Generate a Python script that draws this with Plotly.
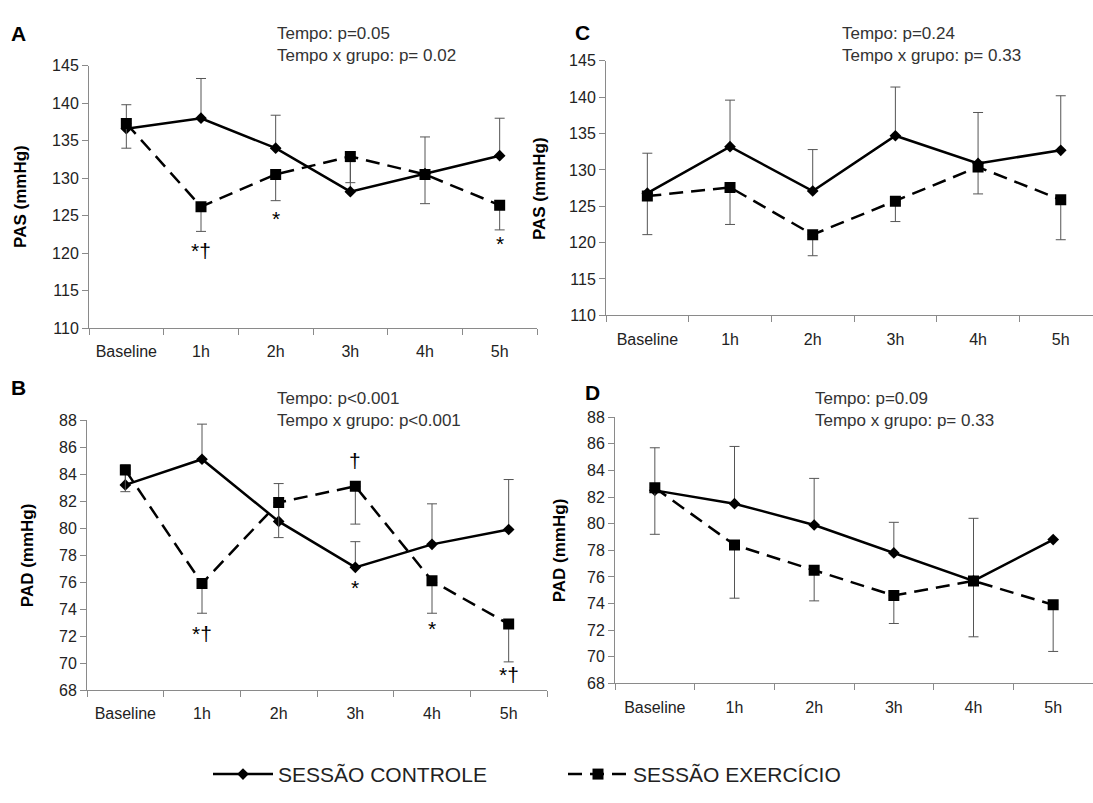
import plotly.graph_objects as go

W, H = 1093, 803

categories = ["Baseline", "1h", "2h", "3h", "4h", "5h"]

# Panel A - PAS (mmHg)
a_controle = [136.6, 138.0, 134.0, 128.2, 130.6, 133.0]
a_controle_err = [3.2, 5.3, 4.4, 4.0, 4.9, 5.0]
a_exercicio = [137.3, 126.2, 130.5, 132.9, 130.5, 126.4]
a_exercicio_err = [3.3, 3.3, 3.5, 3.5, 3.9, 3.3]

# Panel B - PAD (mmHg)
b_controle = [83.2, 85.1, 80.5, 77.1, 78.8, 79.9]
b_controle_err = [1.5, 2.6, 2.8, 1.9, 3.0, 3.7]
b_exercicio = [84.3, 75.9, 81.9, 83.1, 76.1, 72.9]
b_exercicio_err = [1.6, 2.2, 2.6, 2.8, 2.4, 2.8]

# Panel C - PAS (mmHg)
c_controle = [126.8, 133.2, 127.1, 134.7, 130.9, 132.7]
c_controle_err = [5.5, 6.4, 5.7, 6.7, 7.0, 7.5]
c_exercicio = [126.4, 127.6, 121.1, 125.7, 130.4, 125.9]
c_exercicio_err = [5.3, 5.1, 2.9, 2.8, 3.7, 5.5]

# Panel D - PAD (mmHg)
d_controle = [82.5, 81.5, 79.9, 77.8, 75.7, 78.8]
d_controle_err = [3.2, 4.3, 3.5, 2.3, 4.7, 0.0]
d_exercicio = [82.7, 78.4, 76.5, 74.6, 75.7, 73.9]
d_exercicio_err = [3.5, 4.0, 2.3, 2.1, 4.2, 3.5]

stats_a = ["Tempo: p=0.05", "Tempo x grupo: p= 0.02"]
stats_b = ["Tempo: p<0.001", "Tempo x grupo: p<0.001"]
stats_c = ["Tempo: p=0.24", "Tempo x grupo: p= 0.33"]
stats_d = ["Tempo: p=0.09", "Tempo x grupo: p= 0.33"]

# significance marks: (category, y value, label)
sig_a = [("1h", 120.4, "*†"), ("2h", 124.6, "*"), ("5h", 121.3, "*")]
sig_b = [("1h", 72.2, "*†"), ("3h", 85.0, "†"), ("3h", 75.6, "*"),
         ("4h", 72.6, "*"), ("5h", 69.2, "*†")]

legend_names = ["SESSÃO CONTROLE", "SESSÃO EXERCÍCIO"]

FONT = "Liberation Sans, Arial, sans-serif"
AXC = "#8a8a8a"
TXT = "#222222"
ERRC = "#555555"


def px_x(p):
    return p / W


def px_y(p):
    return 1 - p / H


panels = [
    dict(k="", xd=(89, 537), yd=(59, 327), xr=[-0.5, 5.5], yr=[110, 145], dt=5,
         ctrl=a_controle, ce=a_controle_err, ex=a_exercicio, ee=a_exercicio_err),
    dict(k="2", xd=(87, 547), yd=(421, 697), xr=[-0.5, 5.5], yr=[68, 88], dt=2,
         ctrl=b_controle, ce=b_controle_err, ex=b_exercicio, ee=b_exercicio_err),
    dict(k="3", xd=(606, 1093), yd=(54, 314), xr=[-0.5, 5.39], yr=[110, 145], dt=5,
         ctrl=c_controle, ce=c_controle_err, ex=c_exercicio, ee=c_exercicio_err),
    dict(k="4", xd=(615, 1093), yd=(418, 690), xr=[-0.5, 5.5], yr=[68, 88], dt=2,
         ctrl=d_controle, ce=d_controle_err, ex=d_exercicio, ee=d_exercicio_err),
]

fig = go.Figure()
layout = {}

for i, p in enumerate(panels):
    k = p["k"]
    xa, ya = "x" + k, "y" + k
    fig.add_trace(go.Scatter(
        x=categories, y=p["ctrl"], xaxis=xa, yaxis=ya,
        mode="lines+markers", name=legend_names[0], showlegend=(i == 0),
        line=dict(color="black", width=2.5),
        marker=dict(symbol="diamond", size=9, color="black"),
        error_y=dict(type="data", symmetric=False, array=p["ce"],
                     arrayminus=[0] * 6, color=ERRC, thickness=1, width=5),
    ))
    fig.add_trace(go.Scatter(
        x=categories, y=p["ex"], xaxis=xa, yaxis=ya,
        mode="lines+markers", name=legend_names[1], showlegend=(i == 0),
        line=dict(color="black", width=2.5, dash="14px,8px"),
        marker=dict(symbol="square", size=11, color="black"),
        error_y=dict(type="data", symmetric=False, array=[0] * 6,
                     arrayminus=p["ee"], color=ERRC, thickness=1, width=5),
    ))
    layout["xaxis" + k] = dict(
        domain=[px_x(p["xd"][0]), px_x(p["xd"][1])], anchor=ya,
        type="category", categoryorder="array", categoryarray=categories,
        range=p["xr"], tickson="boundaries", ticks="outside", ticklen=6,
        tickcolor=AXC, showline=True, linecolor=AXC, linewidth=1,
        showgrid=False, zeroline=False, ticklabelstandoff=9,
        tickfont=dict(family=FONT, size=16, color=TXT),
    )
    layout["yaxis" + k] = dict(
        domain=[px_y(p["yd"][1]), px_y(p["yd"][0])], anchor=xa,
        range=p["yr"], dtick=p["dt"], tick0=p["yr"][0], ticks="outside",
        ticklen=6, tickcolor=AXC, showline=True, linecolor=AXC, linewidth=1,
        showgrid=False, zeroline=False,
        tickfont=dict(family=FONT, size=16, color=TXT),
    )

annotations = []

# panel letters
for letter, x, y in [("A", 18, 26), ("B", 18, 388), ("C", 582, 25), ("D", 592, 393)]:
    annotations.append(dict(text="<b>%s</b>" % letter, x=px_x(x), y=px_y(y),
                            xref="paper", yref="paper", showarrow=False,
                            xanchor="center", yanchor="middle",
                            font=dict(family=FONT, size=21, color="black")))

# statistics text
for lines, x, y in [(stats_a, 275, 37), (stats_b, 275, 410),
                    (stats_c, 840, 37), (stats_d, 813, 410)]:
    annotations.append(dict(text="<br>".join(lines), x=px_x(x), y=px_y(y),
                            xref="paper", yref="paper", showarrow=False,
                            xanchor="left", yanchor="middle", align="left",
                            font=dict(family=FONT, size=17, color="#333333")))

# y-axis titles
for t, x, y in [("PAS (mmHg)", 21, 193), ("PAD (mmHg)", 27, 559),
                ("PAS (mmHg)", 539, 185), ("PAD (mmHg)", 559, 554)]:
    annotations.append(dict(text="<b>%s</b>" % t, x=px_x(x), y=px_y(y),
                            xref="paper", yref="paper", showarrow=False,
                            textangle=-90, xanchor="center", yanchor="middle",
                            font=dict(family=FONT, size=17, color="black")))

# significance marks
for marks, xr, yr in [(sig_a, "x", "y"), (sig_b, "x2", "y2")]:
    for cat, yv, lab in marks:
        annotations.append(dict(text=lab, x=cat, y=yv, xref=xr, yref=yr,
                                showarrow=False, xanchor="center",
                                yanchor="middle",
                                font=dict(family=FONT, size=21, color="black")))

layout["annotations"] = annotations

fig.update_layout(
    **layout,
    width=W, height=H,
    margin=dict(l=0, r=0, t=0, b=0),
    paper_bgcolor="white", plot_bgcolor="white",
    showlegend=True,
    legend=dict(orientation="h", x=px_x(208), y=px_y(783), xanchor="left",
                yanchor="middle", entrywidth=280, entrywidthmode="pixels",
                itemwidth=60,
                font=dict(family=FONT, size=21, color="#222222"),
                bgcolor="rgba(0,0,0,0)"),
)

fig.write_html("out.html")
